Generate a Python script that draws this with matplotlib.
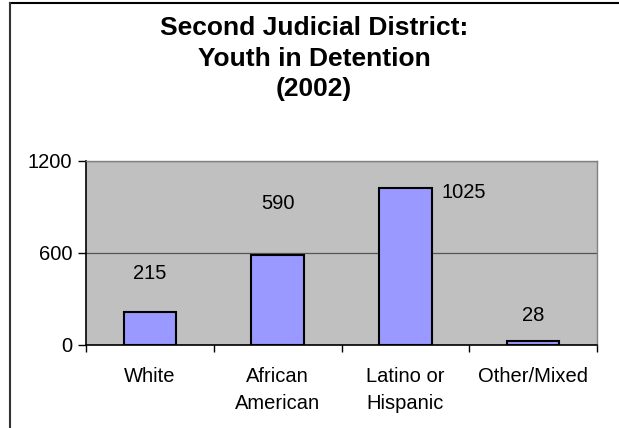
"""
Second Judicial District: Youth in Detention (2002) bar chart.
"""

import matplotlib
matplotlib.use('Agg')
import matplotlib.pyplot as plt
from matplotlib.lines import Line2D

plt.rcParams['font.family'] = ['Liberation Sans', 'DejaVu Sans']

# Data
categories = ['White', 'African\nAmerican', 'Latino or\nHispanic', 'Other/Mixed']
counts = [215, 590, 1025, 28]
y_ticks = [0, 600, 1200]
title_lines = ['Second Judicial District:', 'Youth in Detention', '(2002)']

# Label offsets (pixels) mimicking the original layout
label_offsets = [(0, 39), (0, 51), (58, -5), (0, 25)]

BAR_COLOR = '#9999FF'
PLOT_BG = '#C0C0C0'
FONT_SIZE = 14.5

W, H = 619, 428
fig = plt.figure(figsize=(W / 100, H / 100), dpi=100)

# Axes placed in pixel terms
left, right, top, bottom = 86, 597, 161, 345
ax = fig.add_axes([left / W, (H - bottom) / H, (right - left) / W, (bottom - top) / H])
ax.set_facecolor(PLOT_BG)

x = list(range(len(categories)))
ax.bar(x, counts, width=0.41, color=BAR_COLOR, edgecolor='black', linewidth=1.5, zorder=3)

ax.set_xlim(-0.5, len(categories) - 0.5)
ax.set_ylim(0, 1200)
ax.set_yticks(y_ticks)
ax.set_yticklabels([str(v) for v in y_ticks], fontsize=FONT_SIZE)
ax.tick_params(axis='y', direction='out', length=6, width=1, pad=4)

# Category labels at centres, tick marks at boundaries
ax.set_xticks(x)
ax.set_xticklabels(categories, fontsize=FONT_SIZE, linespacing=1.5)
ax.tick_params(axis='x', which='major', length=0, pad=16)
ax.set_xticks([i + 0.5 for i in range(-1, len(categories))], minor=True)
ax.tick_params(axis='x', which='minor', direction='out', length=5, width=1)

# Gridline
ax.yaxis.grid(True, color='#555555', linewidth=0.9, zorder=1)
ax.set_axisbelow(True)

for side in ['left', 'bottom']:
    ax.spines[side].set_color('black')
    ax.spines[side].set_linewidth(1.2)
for side in ['top', 'right']:
    ax.spines[side].set_color('#808080')
    ax.spines[side].set_linewidth(1.0)

# Data labels
for xi, val, off in zip(x, counts, label_offsets):
    ax.annotate(str(val), xy=(xi, val), xytext=off, textcoords='offset pixels',
                ha='center', va='center', fontsize=FONT_SIZE)

# Title
for i, line in enumerate(title_lines):
    fig.text(314 / W, 1 - (28 + 30.5 * i) / H, line, ha='center', va='center',
             fontsize=19, fontweight='bold')

# Chart border (top and left visible)
fig.add_artist(Line2D([10 / W, 1], [1 - 3 / H, 1 - 3 / H], color='black', linewidth=1.5,
                      transform=fig.transFigure))
fig.add_artist(Line2D([10 / W, 10 / W], [0, 1 - 3 / H], color='#333333', linewidth=1.5,
                      transform=fig.transFigure))

fig.savefig('out.png', dpi=100)
plt.close(fig)
